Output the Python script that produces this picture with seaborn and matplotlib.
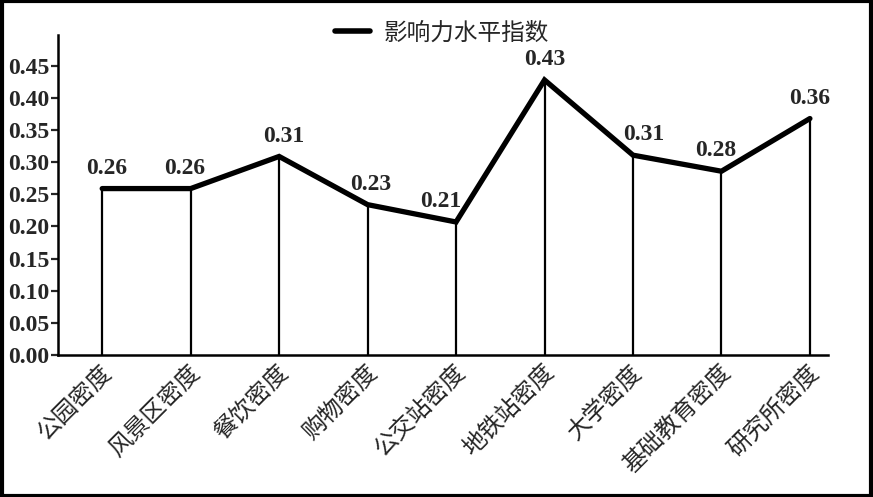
import matplotlib
matplotlib.use("Agg")
import matplotlib.pyplot as plt
import seaborn as sns
import pandas as pd
from matplotlib.patches import Rectangle
from matplotlib.transforms import ScaledTranslation

categories = ["公园密度", "风景区密度", "餐饮密度", "购物密度", "公交站密度",
              "地铁站密度", "大学密度", "基础教育密度", "研究所密度"]
values = [0.259, 0.259, 0.309, 0.234, 0.207, 0.428, 0.311, 0.286, 0.368]
value_labels = ["0.26", "0.26", "0.31", "0.23", "0.21", "0.43", "0.31", "0.28", "0.36"]
series_name = "影响力水平指数"
yticks = [0.00, 0.05, 0.10, 0.15, 0.20, 0.25, 0.30, 0.35, 0.40, 0.45]

# small horizontal nudges (in points) of the value labels, as in the original
label_dx = [3, -4, 3, 2, -11, 0, 8, -4, 0]

sns.set_style("white")
plt.rcParams['font.family'] = ['Noto Sans CJK SC', 'DejaVu Sans']

df = pd.DataFrame({"x": range(len(categories)), "y": values, "s": series_name})

fig = plt.figure(figsize=(8.73, 4.97), dpi=100)
ax = fig.add_axes([0.0664, 0.2857, 0.948 - 0.0664, 0.9296 - 0.2857])

ax.vlines(df["x"], 0, df["y"], color="black", lw=1.6, zorder=2)
sns.lineplot(data=df, x="x", y="y", hue="s", palette=["black"], lw=3.8, ax=ax,
             zorder=3, solid_joinstyle="miter")

for xi, yi, lab, dx in zip(df["x"], df["y"], value_labels, label_dx):
    ax.annotate(lab, (xi, yi), xytext=(dx, 7), textcoords="offset points",
                ha="center", va="bottom", fontsize=17, fontweight="bold",
                family="Liberation Serif", zorder=4)

ax.set_xlim(-0.5, 8.2)
ax.set_ylim(0, 0.498)
ax.set_yticks(yticks)
ax.set_yticklabels([f"{t:.2f}" for t in yticks], fontsize=17, fontweight="bold",
                   family="Liberation Serif")
ax.set_xticks(range(len(categories)))
ax.set_xticklabels(categories, rotation=45, ha="right", va="center",
                   rotation_mode="anchor", fontsize=17)
ax.tick_params(axis="x", length=0, pad=10)
ax.tick_params(axis="y", length=5, width=1.6, direction="out", pad=1, left=True)
shift = ScaledTranslation(6 / 100, 0, fig.dpi_scale_trans)
for lbl in ax.get_xticklabels():
    lbl.set_transform(lbl.get_transform() + shift)
ax.set_xlabel("")
ax.set_ylabel("")

for side in ["top", "right"]:
    ax.spines[side].set_visible(False)
for side in ["left", "bottom"]:
    ax.spines[side].set_linewidth(1.8)
    ax.spines[side].set_color("black")

leg = ax.legend(loc="center", bbox_to_anchor=(442 / 873, 1 - 33 / 497),
                bbox_transform=fig.transFigure, frameon=False, fontsize=17,
                handlelength=1.5, handletextpad=0.6)
for line in leg.get_lines():
    line.set_linewidth(4)

fig.add_artist(Rectangle((0.002, 0.003), 0.996, 0.994, transform=fig.transFigure,
                         fill=False, edgecolor="black", lw=3))

fig.savefig("out.png", dpi=100)
